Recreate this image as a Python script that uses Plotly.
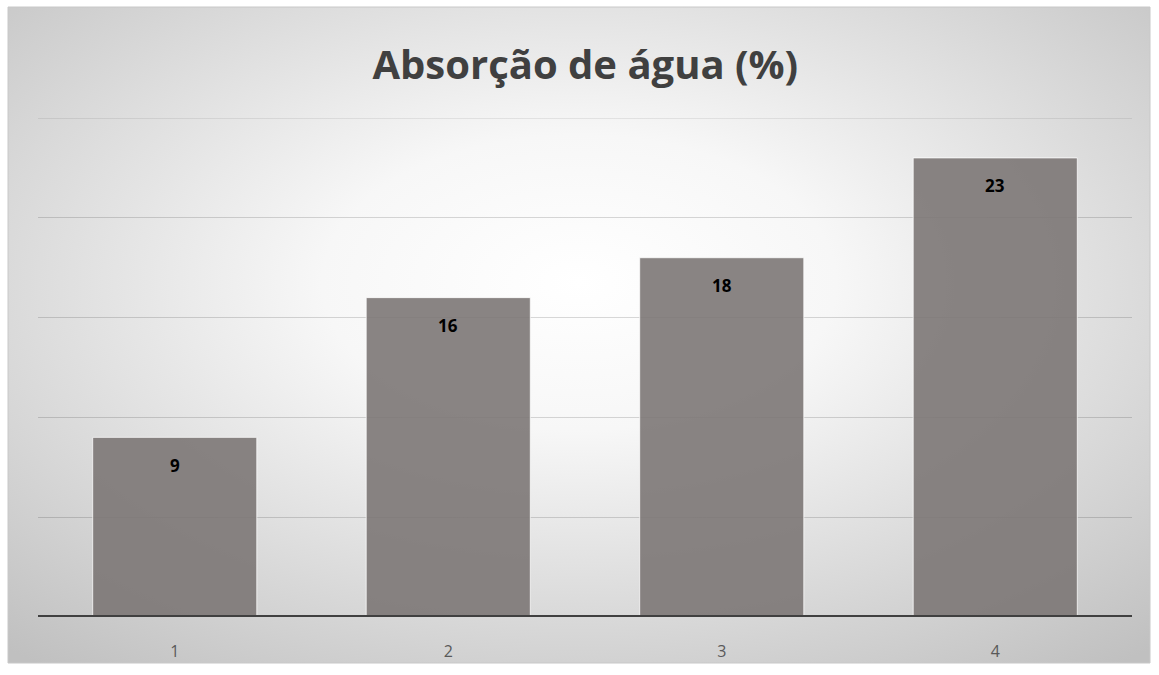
import plotly.graph_objects as go
import urllib.parse

# Water absorption per sample
categories = ["1", "2", "3", "4"]
absorption = [9, 16, 18, 23]
y_ticks = [0, 5, 10, 15, 20, 25]

W, H = 1159, 675
ml, mr, mt, mb = 38, 27, 118, 58
pw, ph = W - ml - mr, H - mt - mb

# chart frame (pixels) -> paper coordinates
fx0, fx1, fy0, fy1 = 8, 1150, 7, 663
px = lambda v: (v - ml) / pw
py = lambda v: (H - mb - v) / ph

svg = (
    "<svg xmlns='http://www.w3.org/2000/svg' width='1142' height='656' preserveAspectRatio='none'>"
    "<defs><radialGradient id='g' cx='0.5' cy='0.42' r='0.75'>"
    "<stop offset='0' stop-color='#ffffff'/>"
    "<stop offset='0.3' stop-color='#f7f7f7'/>"
    "<stop offset='1' stop-color='#c0c0c0'/>"
    "</radialGradient></defs>"
    "<rect width='1142' height='656' fill='url(#g)'/></svg>"
)
bg_src = "data:image/svg+xml;charset=utf-8," + urllib.parse.quote(svg)

fig = go.Figure()
fig.add_trace(go.Bar(
    x=categories,
    y=absorption,
    marker=dict(color="rgba(124,119,117,0.9)",
                line=dict(color="rgba(255,255,255,0.75)", width=1)),
    width=0.6,
    hoverinfo="skip",
))

# value labels near the top of each bar (category index positions)
for i, v in enumerate(absorption):
    fig.add_annotation(x=i, y=v, xref="x", yref="y", text=f"<b>{v}</b>", showarrow=False,
                       yanchor="middle", yshift=-28,
                       font=dict(family="Open Sans", size=17, color="#000000"))

fig.update_layout(
    width=W, height=H,
    margin=dict(l=ml, r=mr, t=mt, b=mb),
    paper_bgcolor="#ffffff",
    plot_bgcolor="rgba(0,0,0,0)",
    showlegend=False,
    title=dict(text="<b>Absorção de água (%)</b>", x=0.505, xanchor="center",
               y=1 - 65 / H, yanchor="middle",
               font=dict(family="Open Sans", size=40, color="#404040")),
    xaxis=dict(type="category", range=[-0.5, len(categories) - 0.5],
               showgrid=False, showline=False, ticks="",
               tickfont=dict(family="Open Sans", size=16, color="#595959"),
               ticklabelstandoff=23),
    yaxis=dict(range=[0, 25], tickvals=y_ticks, showticklabels=False,
               showgrid=True, gridcolor="rgba(0,0,0,0.15)", gridwidth=1,
               zeroline=False, showline=False),
    images=[dict(source=bg_src, xref="paper", yref="paper",
                 x=px(fx0), y=py(fy0), sizex=(fx1 - fx0) / pw, sizey=(fy1 - fy0) / ph,
                 xanchor="left", yanchor="top", sizing="stretch", layer="below")],
    shapes=[
        dict(type="rect", xref="paper", yref="paper",
             x0=px(fx0), x1=px(fx1), y0=py(fy1), y1=py(fy0),
             line=dict(color="#c8c8c8", width=1), layer="below"),
        dict(type="line", xref="paper", yref="y", x0=0, x1=1, y0=y_ticks[-1], y1=y_ticks[-1],
             line=dict(color="rgba(0,0,0,0.15)", width=1), layer="below"),
        dict(type="line", xref="paper", yref="y", x0=0, x1=1, y0=0, y1=0,
             line=dict(color="#404040", width=4), layer="above"),
    ],
)

fig.write_html("out.html")
